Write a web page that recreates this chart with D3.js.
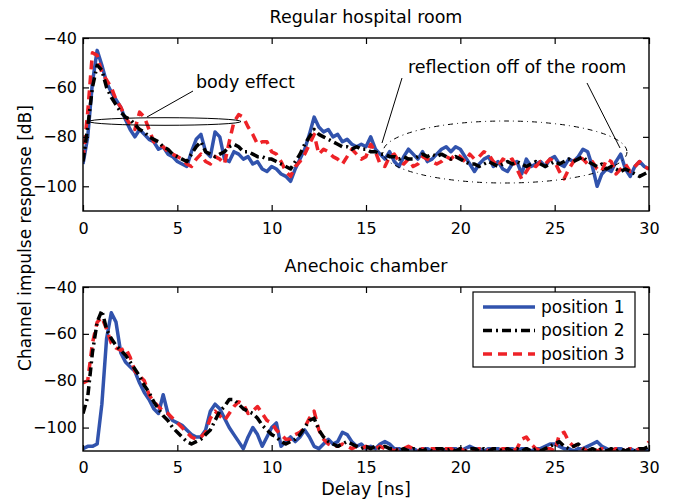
<!DOCTYPE html>
<html><head><meta charset="utf-8">
<script src="https://cdn.jsdelivr.net/npm/d3@7"></script>
<style>body{margin:0;background:#fff}text{font-family:"DejaVu Sans",sans-serif}</style>
</head><body><svg id="c" width="680" height="502"></svg>
<script>
const delay = [
0,0.25,0.5,0.75, 1,1.25,1.5,1.75, 2,2.25,2.5,2.75, 3,3.25,3.5,3.75, 4,4.25,4.5,4.75,
5,5.25,5.5,5.75, 6,6.25,6.5,6.75, 7,7.25,7.5,7.75, 8,8.25,8.5,8.75, 9,9.25,9.5,9.75,
10,10.25,10.5,10.75, 11,11.25,11.5,11.75, 12,12.25,12.5,12.75, 13,13.25,13.5,13.75, 14,14.25,14.5,14.75,
15,15.25,15.5,15.75, 16,16.25,16.5,16.75, 17,17.25,17.5,17.75, 18,18.25,18.5,18.75, 19,19.25,19.5,19.75,
20,20.25,20.5,20.75, 21,21.25,21.5,21.75, 22,22.25,22.5,22.75, 23,23.25,23.5,23.75, 24,24.25,24.5,24.75,
25,25.25,25.5,25.75, 26,26.25,26.5,26.75, 27,27.25,27.5,27.75, 28,28.25,28.5,28.75, 29,29.25,29.5,29.75,
30];

// Regular hospital room
const roomP1 = [
-91,-80,-58,-45, -51,-58,-62,-65, -68,-73,-77,-80, -77,-79,-81,-82, -85,-84,-87,-88,
-90,-91,-92,-86, -81,-79,-86,-88, -78,-80,-89,-90, -86,-87,-89,-88, -91,-90,-93,-94,
-92,-93,-95,-96, -98,-93,-89,-85, -79,-72,-76,-78, -77,-80,-79,-82, -81,-83,-84,-83,
-84,-80,-85,-87, -89,-86,-90,-92, -88,-85,-87,-89, -86,-90,-89,-87, -85,-84,-86,-84,
-85,-88,-91,-94, -91,-89,-88,-92, -90,-93,-94,-91, -90,-95,-89,-92, -91,-90,-92,-89,
-88,-91,-92,-89, -90,-88,-85,-86, -92,-100,-95,-93, -94,-90,-87,-93, -96,-92,-90,-92,
-93];
const roomP2 = [
-90,-76,-60,-51, -53,-60,-64,-67, -70,-72,-73,-75, -77,-78,-80,-81, -82,-84,-85,-87,
-88,-89,-90,-87, -84,-82,-86,-87, -88,-87,-86,-84, -83,-84,-86,-86, -87,-88,-88,-89,
-89,-90,-91,-92, -93,-90,-87,-83, -80,-77,-79,-80, -81,-82,-83,-84, -84,-85,-84,-85,
-85,-86,-86,-87, -87,-88,-88,-89, -88,-89,-89,-88, -87,-88,-87,-88, -87,-88,-89,-88,
-89,-90,-91,-91, -92,-91,-90,-91, -92,-91,-90,-91, -90,-91,-92,-91, -90,-91,-92,-91,
-90,-91,-90,-89, -90,-89,-88,-90, -91,-92,-91,-93, -92,-93,-94,-93, -94,-95,-96,-95,
-94];
const roomP3 = [
-89,-70,-46,-47, -54,-57,-60,-65, -68,-72,-75,-77, -70,-72,-77,-82, -83,-84,-86,-87,
-88,-89,-91,-92, -89,-87,-90,-91, -88,-89,-91,-82, -74,-71,-72,-76, -79,-83,-82,-82,
-86,-87,-90,-94, -96,-92,-90,-87, -83,-79,-87,-85, -86,-88,-89,-91, -88,-85,-87,-89,
-88,-83,-86,-91, -92,-88,-87,-90, -91,-89,-92,-91, -88,-89,-90,-91, -90,-88,-89,-87,
-88,-90,-87,-89, -88,-86,-87,-90, -92,-89,-90,-89, -93,-97,-94,-91, -92,-90,-91,-89,
-90,-94,-97,-93, -90,-88,-89,-91, -90,-93,-94,-89, -90,-95,-93,-91, -94,-92,-90,-92,
-93];

// Anechoic chamber
const anechP1 = [
-109,-108,-108,-107, -90,-62,-51,-55, -68,-72,-74,-76, -81,-85,-88,-92, -94,-86,-94,-97,
-98,-99,-101,-103, -104,-104,-101,-93, -90,-92,-96,-100, -103,-106,-109,-104, -100,-103,-108,-104,
-100,-98,-108,-106, -104,-106,-104,-101, -104,-108,-109,-107, -105,-107,-106,-102, -103,-106,-108,-107,
-109,-108,-109,-107, -106,-107,-109,-109, -110,-109,-109,-110, -109,-109,-110,-109, -109,-110,-109,-109,
-110,-109,-108,-109, -109,-110,-109,-109, -109,-110,-109,-109, -110,-109,-109,-110, -109,-109,-108,-107,
-107,-108,-109,-109, -110,-109,-109,-108, -107,-106,-108,-109, -110,-109,-109,-110, -109,-110,-109,-109,
-110];
const anechP2 = [
-94,-87,-68,-55, -50,-58,-62,-65, -67,-69,-72,-75, -78,-82,-85,-89, -92,-95,-97,-100,
-102,-104,-106,-107, -106,-105,-103,-101, -97,-93,-91,-88, -88,-90,-92,-93, -94,-96,-99,-101,
-103,-104,-106,-107, -106,-105,-103,-100, -97,-96,-101,-104, -106,-107,-108,-107, -106,-107,-108,-109,
-108,-109,-108,-109, -108,-109,-109,-110, -109,-110,-109,-109, -110,-109,-110,-109, -109,-110,-109,-110,
-109,-110,-109,-109, -110,-109,-110,-109, -109,-110,-109,-110, -109,-110,-109,-110, -109,-110,-109,-108,
-107,-106,-108,-109, -108,-107,-109,-110, -109,-110,-109,-110, -109,-110,-109,-110, -109,-110,-109,-109,
-108];
const anechP3 = [
-81,-80,-64,-55, -53,-58,-64,-66, -67,-66,-70,-76, -78,-80,-86,-89, -91,-93,-94,-96,
-98,-100,-102,-104, -105,-104,-102,-96, -93,-95,-97,-94, -91,-89,-90,-94, -93,-91,-94,-97,
-98,-101,-103,-105, -105,-103,-102,-100, -96,-93,-101,-105, -107,-108,-108,-107, -108,-109,-108,-109,
-108,-109,-109,-108, -109,-109,-110,-109, -109,-108,-109,-110, -109,-110,-109,-109, -110,-109,-109,-110,
-109,-110,-109,-110, -109,-109,-110,-109, -110,-109,-109,-110, -109,-105,-104,-107, -109,-110,-109,-109,
-110,-103,-102,-106, -108,-107,-109,-110, -109,-110,-109,-109, -110,-109,-109,-110, -109,-110,-109,-109,
-106];

const seriesNames = ["position 1","position 2","position 3"];
const xTicks = [0,5,10,15,20,25,30];
const yTicks = [-40,-60,-80,-100];
const panelTitles = ["Regular hospital room","Anechoic chamber"];

const colors = ["#3153ad","#000000","#ee2227"];
const dashes = [null,"9,4,2,4","9,6"];

const svg = d3.select("#c");
const X0 = 83, X1 = 649;
const panels = [
  {top:38, bottom:211, data:[roomP1,roomP2,roomP3], title:panelTitles[0], titleY:23, tickY:229},
  {top:287, bottom:451, data:[anechP1,anechP2,anechP3], title:panelTitles[1], titleY:272, tickY:468}
];
const x = d3.scaleLinear().domain([0,30]).range([X0,X1]);
const fmt = d => d<0 ? "\u2212"+Math.abs(d) : String(d);

panels.forEach((p,pi)=>{
  const y = d3.scaleLinear().domain([-110,-40]).range([p.bottom,p.top]);
  const g = svg.append("g");
  const cid = "clip"+pi;
  svg.append("clipPath").attr("id",cid).append("rect")
    .attr("x",X0).attr("y",p.top).attr("width",X1-X0).attr("height",p.bottom-p.top);
  const line = d3.line().x((d,i)=>x(delay[i])).y(d=>y(d));
  [0,2,1].forEach(si=>{
    g.append("path").attr("clip-path",`url(#${cid})`)
      .datum(p.data[si]).attr("d",line)
      .attr("fill","none").attr("stroke",colors[si]).attr("stroke-width",3.5)
      .attr("stroke-dasharray",dashes[si]).attr("stroke-linejoin","round");
  });
  const ax = [
    d3.axisBottom(x).tickValues(xTicks).tickSize(-6).tickFormat(fmt),
    d3.axisTop(x).tickValues(xTicks).tickSize(-6).tickFormat(""),
    d3.axisLeft(y).tickValues(yTicks).tickSize(-6).tickFormat(fmt),
    d3.axisRight(y).tickValues(yTicks).tickSize(-6).tickFormat("")
  ];
  const pos = [`translate(0,${p.bottom})`,`translate(0,${p.top})`,`translate(${X0},0)`,`translate(${X1},0)`];
  ax.forEach((a,i)=>{
    const ag = svg.append("g").attr("transform",pos[i]).call(a);
    ag.select(".domain").remove();
    ag.selectAll("line").attr("stroke","#000").attr("stroke-width",1.2);
    ag.selectAll("text").attr("font-size",16).attr("fill","#000")
      .attr("font-family","DejaVu Sans, sans-serif");
    if(i===0) ag.selectAll("text").attr("dy",null).attr("y",null)
      .attr("transform",`translate(0,${p.tickY-p.bottom})`).attr("dominant-baseline","middle");
    if(i===2) ag.selectAll("text").attr("x",-6);
  });
  svg.append("rect").attr("x",X0).attr("y",p.top).attr("width",X1-X0).attr("height",p.bottom-p.top)
    .attr("fill","none").attr("stroke","#000").attr("stroke-width",1.4);
  svg.append("text").attr("x",366).attr("y",p.titleY).attr("text-anchor","middle")
    .attr("font-size",17.5).text(p.title);
});

// annotations (top panel)
const ann = svg.append("g").attr("fill","none").attr("stroke","#000").attr("stroke-width",1);
ann.append("ellipse").attr("cx",165).attr("cy",121.5).attr("rx",76).attr("ry",3.8);
ann.append("line").attr("x1",193).attr("y1",91).attr("x2",147).attr("y2",117);
ann.append("ellipse").attr("cx",505).attr("cy",152).attr("rx",122).attr("ry",31)
  .attr("stroke-dasharray","5,4,1,4");
ann.append("line").attr("x1",402).attr("y1",78).attr("x2",382).attr("y2",143);
ann.append("line").attr("x1",587).attr("y1",83).attr("x2",620).attr("y2",148);
svg.append("text").attr("x",196).attr("y",88).attr("font-size",17.5).text("body effect");
svg.append("text").attr("x",408).attr("y",73).attr("font-size",17.5).text("reflection off of the room");

// axis labels
svg.append("text").attr("x",366).attr("y",495).attr("text-anchor","middle").attr("font-size",17.5).text("Delay [ns]");
svg.append("text").attr("transform","translate(31,238) rotate(-90)").attr("text-anchor","middle")
  .attr("font-size",17).text("Channel impulse response [dB]");

// legend
const lg = svg.append("g");
lg.append("rect").attr("x",473).attr("y",292).attr("width",162).attr("height",75)
  .attr("fill","#fff").attr("stroke","#000").attr("stroke-width",1.2);
seriesNames.forEach((n,i)=>{
  const yy = 307 + i*23.5;
  lg.append("line").attr("x1",483).attr("x2",535).attr("y1",yy).attr("y2",yy)
    .attr("stroke",colors[i]).attr("stroke-width",3.5).attr("stroke-dasharray",dashes[i]);
  lg.append("text").attr("x",541).attr("y",yy).attr("dy","0.35em").attr("font-size",17).text(n);
});
</script></body></html>
